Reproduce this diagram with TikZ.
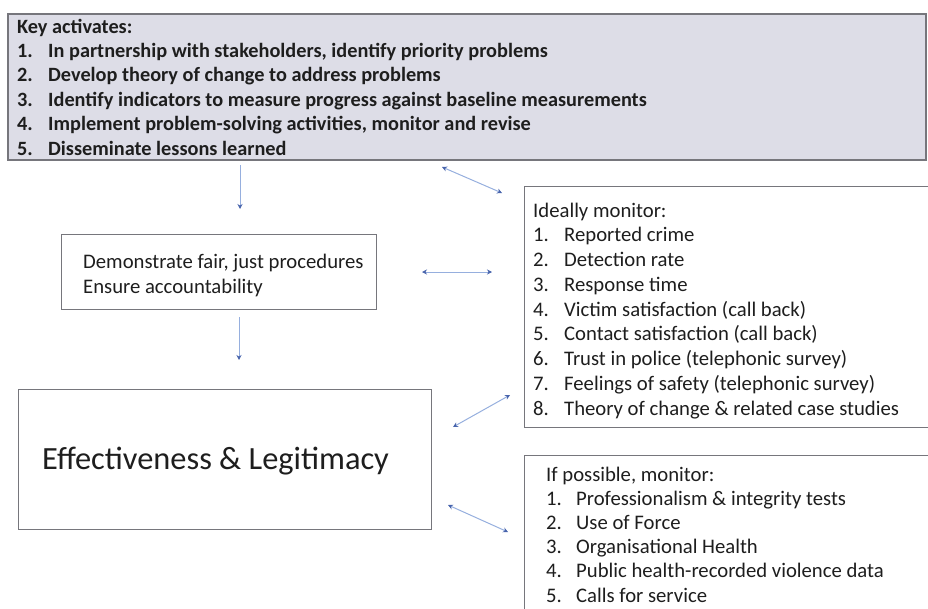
\documentclass[tikz,border=0pt]{standalone}
\usepackage{fontspec}
\setmainfont{Carlito}
\usetikzlibrary{arrows.meta}
\definecolor{panel}{RGB}{221,221,231}
\definecolor{frame}{RGB}{118,118,124}
\definecolor{link}{RGB}{150,175,222}
\definecolor{tipc}{RGB}{72,100,172}
\definecolor{ink}{RGB}{30,30,30}

\begin{document}
\begin{tikzpicture}[x=1pt,y=-1pt,
  box/.style={draw=frame, line width=1.3pt, fill=white, inner sep=0pt, anchor=north west},
  keybox/.style={box, fill=panel, line width=1.8pt},
  txt/.style={inner sep=0pt, anchor=base west, text=ink},
  link1/.style={draw=link, line width=1pt, -{Stealth[length=5pt,width=5pt,color=tipc]}},
  link2/.style={draw=link, line width=1pt, {Stealth[length=5pt,width=5pt,color=tipc]}-{Stealth[length=5pt,width=5pt,color=tipc]}}
]
\useasboundingbox (0,0) rectangle (928,608);
\clip (0,0) rectangle (928,608);

% boxes
\node[keybox, minimum width=918pt, minimum height=146pt] (keys) at (7,13) {};
\node[box, minimum width=315pt, minimum height=75pt] (proc) at (61,234) {};
\node[box, minimum width=413pt, minimum height=140pt] (effleg) at (18,389) {};
\node[box, minimum width=420pt, minimum height=241pt] (ideal) at (524,186) {};
\node[box, minimum width=420pt, minimum height=180pt] (possible) at (524,455) {};

% key activities
\node[txt, font={\fontsize{20.3}{24.4}\selectfont\bfseries}] (keystext) at (17,33) {%
  \begin{tabular}[t]{@{}p{31pt}@{}l@{}}
  \multicolumn{2}{@{}l@{}}{Key activates:}\\
  1. & In partnership with stakeholders, identify priority problems\\
  2. & Develop theory of change to address problems\\
  3. & Identify indicators to measure progress against baseline measurements\\
  4. & Implement problem-solving activities, monitor and revise\\
  5. & Disseminate lessons learned
  \end{tabular}};

% procedures
\node[txt, font=\fontsize{20.7}{25}\selectfont] (proctext) at (83,268) {%
  \begin{tabular}[t]{@{}l@{}}
  Demonstrate fair, just procedures\\
  Ensure accountability
  \end{tabular}};

% outcome
\node[txt, font=\fontsize{32.4}{38}\selectfont] (efftext) at (42,469) {Effectiveness \& Legitimacy};

% ideal monitoring
\node[txt, font=\fontsize{20.7}{24.75}\selectfont] (idealtext) at (533,217) {%
  \begin{tabular}[t]{@{}p{31pt}@{}l@{}}
  \multicolumn{2}{@{}l@{}}{Ideally monitor:}\\
  1. & Reported crime\\
  2. & Detection rate\\
  3. & Response time\\
  4. & Victim satisfaction (call back)\\
  5. & Contact satisfaction (call back)\\
  6. & Trust in police (telephonic survey)\\
  7. & Feelings of safety (telephonic survey)\\
  8. & Theory of change \& related case studies
  \end{tabular}};

% optional monitoring
\node[txt, font=\fontsize{20.7}{24.2}\selectfont] (possibletext) at (546,481) {%
  \begin{tabular}[t]{@{}p{30pt}@{}l@{}}
  \multicolumn{2}{@{}l@{}}{If possible, monitor:}\\
  1. & Professionalism \& integrity tests\\
  2. & Use of Force\\
  3. & Organisational Health\\
  4. & Public health-recorded violence data\\
  5. & Calls for service
  \end{tabular}};

% connector end points
\coordinate (k1) at (240,165);  \coordinate (p1) at (240,209);
\coordinate (k2) at (442,167);  \coordinate (i1) at (502,193);
\coordinate (p2) at (422,272);  \coordinate (i2) at (492,272);
\coordinate (p3) at (239,317);  \coordinate (e1) at (239,360);
\coordinate (e2) at (453,427);  \coordinate (i3) at (510,395);
\coordinate (e3) at (448,505);  \coordinate (o1) at (508,532);

% connectors
\draw[link1] (k1) -- (p1);
\draw[link2] (k2) -- (i1);
\draw[link2] (p2) -- (i2);
\draw[link1] (p3) -- (e1);
\draw[link2] (e2) -- (i3);
\draw[link2] (e3) -- (o1);
\end{tikzpicture}
\end{document}
